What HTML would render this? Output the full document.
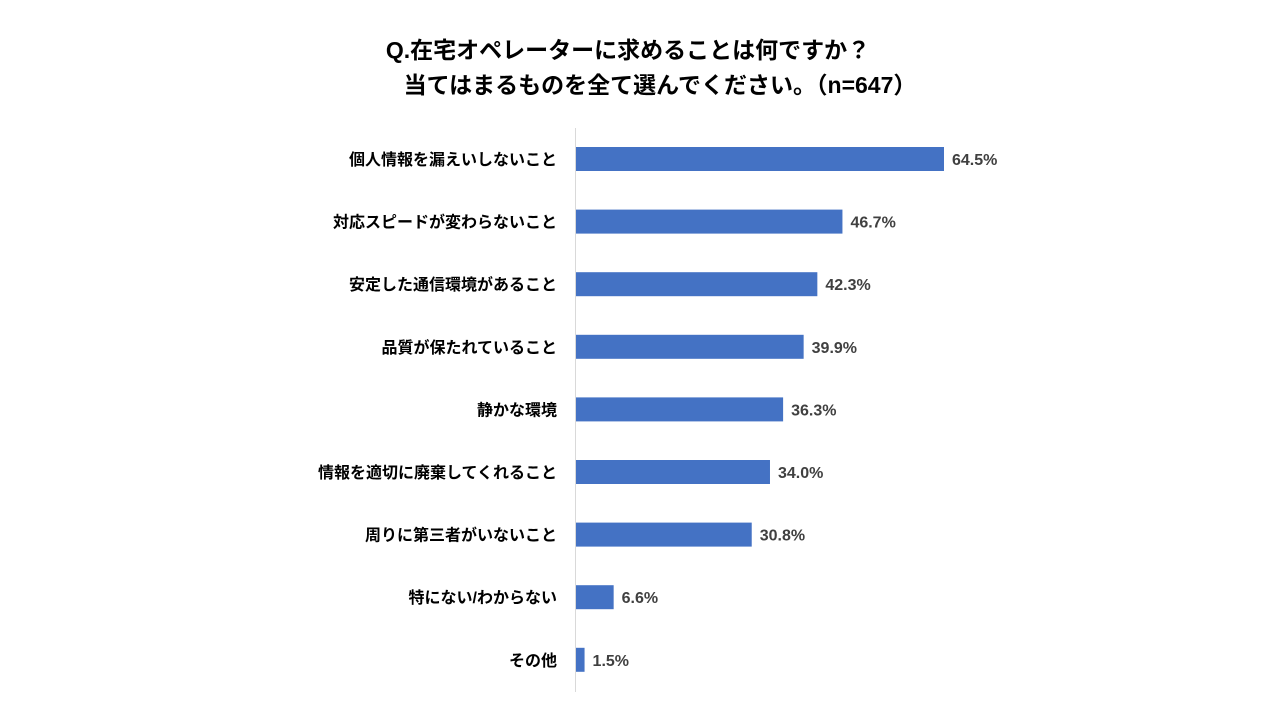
<!DOCTYPE html>
<html><head><meta charset="utf-8">
<style>
body{margin:0;background:#fff;}
svg{display:block;font-family:"Liberation Sans","Noto Sans CJK JP",sans-serif;}
</style></head>
<body>
<svg id="chart" width="1280" height="720">
<text x="628" y="58" text-anchor="middle" font-size="23" font-weight="bold" fill="#000">Q.在宅オペレーターに求めることは何ですか？</text>
<text x="660" y="93" text-anchor="middle" font-size="23" font-weight="bold" fill="#000">当てはまるものを全て選んでください。（n=647）</text>
<line x1="575.5" y1="128" x2="575.5" y2="692" stroke="#d9d9d9" stroke-width="1"/>
<g id="bars"></g>
</svg>
<script>
const categories=["個人情報を漏えいしないこと","対応スピードが変わらないこと","安定した通信環境があること","品質が保たれていること","静かな環境","情報を適切に廃棄してくれること","周りに第三者がいないこと","特にない/わからない","その他"];
const values=[64.5,46.7,42.3,39.9,36.3,34.0,30.8,6.6,1.5];
const valueLabels=["64.5%","46.7%","42.3%","39.9%","36.3%","34.0%","30.8%","6.6%","1.5%"];
const x0=576, pxPer=368/64.5, yTop=159, step=62.6, bh=24;
const xScale=v=>x0+v*pxPer;
const yScale=i=>yTop+i*step;
const g=document.getElementById('bars');
const NS="http://www.w3.org/2000/svg";
categories.forEach((c,i)=>{
  const cy=yScale(i);
  const r=document.createElementNS(NS,'rect');
  r.setAttribute('x',x0);r.setAttribute('y',cy-bh/2);
  r.setAttribute('width',xScale(values[i])-x0);r.setAttribute('height',bh);
  r.setAttribute('fill','#4472c4');
  
  
  g.appendChild(r);
  const t=document.createElementNS(NS,'text');
  t.setAttribute('x',557);t.setAttribute('y',cy+6);
  t.setAttribute('text-anchor','end');t.setAttribute('font-size','16');
  t.setAttribute('font-weight','bold');t.setAttribute('fill','#000');
  t.textContent=c;
  
  
  g.appendChild(t);
  const v=document.createElementNS(NS,'text');
  v.setAttribute('x',xScale(values[i])+8);v.setAttribute('y',cy+6);
  v.setAttribute('font-size','16');v.setAttribute('font-weight','bold');
  v.setAttribute('fill','#404040');
  v.textContent=valueLabels[i];
  
  
  g.appendChild(v);
});
</script>
</body></html>
